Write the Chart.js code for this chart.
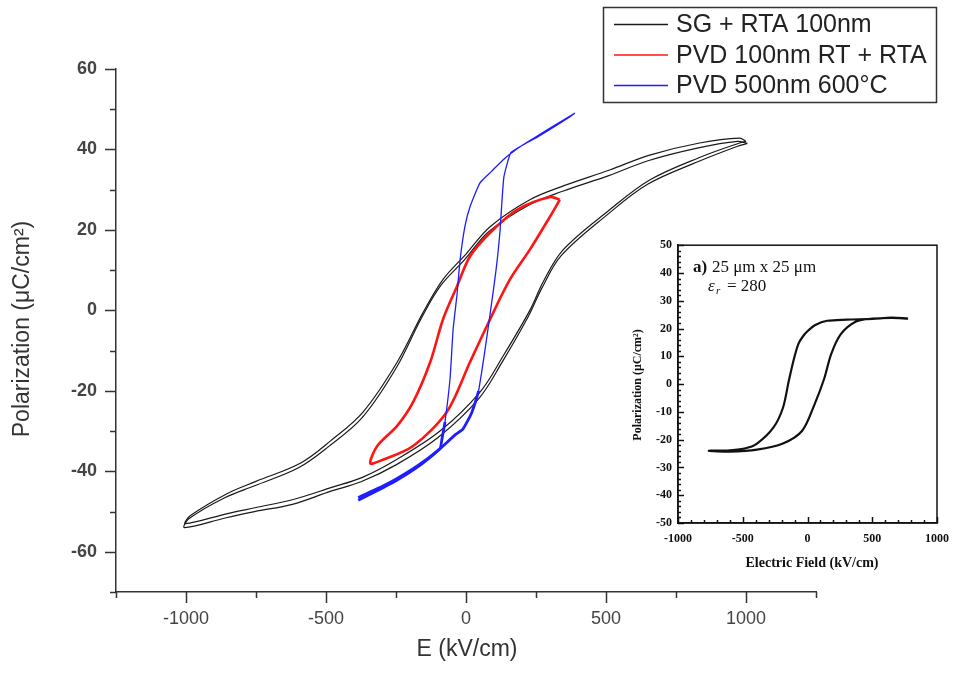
<!DOCTYPE html>
<html>
<head>
<meta charset="utf-8">
<script src="https://cdn.jsdelivr.net/npm/chart.js@4"></script>
<style>
html, body { margin: 0; padding: 0; background: #fff; }
#wrap { position: relative; width: 958px; height: 675px; }
#main { position: absolute; left: 0; top: 0; }
#inset { position: absolute; left: 628px; top: 232px; background: #fff; }
</style>
</head>
<body>
<div id="wrap">
  <canvas id="main" width="958" height="675"></canvas>
  <canvas id="inset" width="330" height="345"></canvas>
</div>
<script>
// SG + RTA 100nm - two overlapping cycles (upper branch then lower branch)
const sgE1 = [1000, 977, 834, 656, 513, 350, 228, 86, 0, -82, -153, -246, -367, -485, -592, -750, -852, -984, -1002,
              -852, -750, -617, -480, -370, -246, -93, 50, 132, 228, 275, 346, 513, 656, 834, 977, 1000];
const sgP1 = [42, 42.8, 41.6, 38.6, 34.9, 31, 27.5, 20.8, 14, 7.7, -0.5, -12.9, -25.2, -32.5, -38, -42.5, -45.5, -51, -53,
              -50.5, -49, -47, -44, -41.5, -37, -30, -20.3, -11.4, 0, 7, 15, 25, 32.4, 38, 41.6, 42];
const sgE2 = [1005, 970, 830, 650, 510, 345, 225, 80, -5, -90, -160, -250, -370, -490, -600, -755, -860, -990, -1005,
              -860, -755, -620, -485, -375, -250, -100, 45, 128, 222, 270, 340, 505, 650, 830, 970, 1005];
const sgP2 = [41.5, 42, 40.4, 37.2, 33.5, 29.6, 26.2, 19.5, 12.6, 6.2, -2, -14.4, -26.6, -33.8, -39.2, -43.6, -46.5, -51.8, -54,
              -51.6, -50, -48.2, -45, -42.6, -38.4, -31.6, -22, -13, -1.6, 5.4, 13.6, 23.8, 31.4, 37, 40.8, 41.5];

// PVD 100nm RT + RTA
const rtE = [335, 300, 182, 86, 14, -32, -82, -128, -189, -246, -317, -342,
             -307, -189, -68, 14, 86, 157, 228, 300, 335];
const rtP = [27.5, 28.2, 25, 19.3, 13.4, 6, -2.2, -12.9, -22.8, -28.7, -33.7, -38,
             -37.4, -33.7, -25.2, -12.9, -2.2, 7.7, 15.1, 23.3, 27.5];

// PVD 500nm 600°C
const hotE = [-385, -300, -246, -170, -93, -40, -11, 20, 45, 103, 121, 135, 160, 200, 253, 324, 388,
              324, 253, 200, 160, 132, 90, 50, 14, -4, -21, -32, -46, -57, -75, -86, -93, -170, -246, -300, -385];
const hotP = [-46.5, -43.8, -41.8, -38.5, -34.4, -31, -29.5, -25.5, -20, 7.7, 19.3, 33, 39.2, 41, 43.3, 46.3, 49,
              46, 43, 41, 39, 37.4, 34.5, 31.7, 25.7, 20.8, 12.6, 4, -4.7, -17, -27.7, -32, -34.4, -38.8, -42.2, -44.2, -47.2];

// inset: a) 25 um x 25 um
const insE = [777, 650, 503, 303, 152, 60, 4, -30, -70, -105, -145, -190, -264, -390, -487, -620, -762,
              -600, -390, -190, -41, 56, 130, 182, 256, 375, 502, 650, 777];
const insP = [23.6, 23.9, 23.5, 23.2, 22.8, 21.3, 19.2, 17.5, 14.5, 9, 1, -8.6, -15.7, -21.4, -23.2, -23.9, -24,
              -24.3, -23.6, -21.4, -16.8, -7.1, 2.1, 10.7, 17.9, 22.5, 23.6, 23.8, 23.6];

const seriesNames = ['SG + RTA 100nm', 'PVD 100nm RT + RTA', 'PVD 500nm 600°C'];
const seriesColors = ['#1a1a1a', '#ff1414', '#1e1eff'];

function pts(xs, ys) {
    return xs.map((x, i) => ({ x: x, y: ys[i] }));
}

// tick marks drawn from the scale's own ticks (long for labelled, short for the rest)
const tickMarks = {
    id: 'tickMarks',
    afterDraw(chart, args, opts) {
        const ctx = chart.ctx;
        const area = chart.chartArea;
        const xs = chart.scales.x, ys = chart.scales.y;
        const dir = opts.inward ? -1 : 1;
        ctx.save();
        ctx.strokeStyle = opts.color;
        ctx.lineWidth = opts.width;
        ctx.beginPath();
        xs.ticks.forEach((t, i) => {
            const px = Math.round(xs.getPixelForTick(i)) + 0.5;
            const len = t.label === '' ? opts.minor : opts.major;
            ctx.moveTo(px, area.bottom);
            ctx.lineTo(px, area.bottom + dir * len);
        });
        ys.ticks.forEach((t, i) => {
            const py = Math.round(ys.getPixelForTick(i)) + 0.5;
            const len = t.label === '' ? opts.minor : opts.major;
            ctx.moveTo(area.left, py);
            ctx.lineTo(area.left - dir * len, py);
        });
        ctx.stroke();
        if (opts.box) {
            ctx.lineWidth = 1.5;
            ctx.strokeRect(area.left, area.top, area.right - area.left, area.bottom - area.top);
        }
        ctx.restore();
    }
};

// free text (axis titles, annotations)
const texts = {
    id: 'texts',
    afterDraw(chart, args, opts) {
        const ctx = chart.ctx;
        (opts.items || []).forEach(t => {
            ctx.save();
            ctx.translate(t.x, t.y);
            if (t.rotate) ctx.rotate(t.rotate);
            ctx.font = t.font;
            ctx.fillStyle = t.color || '#000';
            ctx.textAlign = t.align || 'center';
            ctx.textBaseline = 'middle';
            ctx.fillText(t.text, 0, 0);
            ctx.restore();
        });
    }
};

// boxed legend at top right
const legendBox = {
    id: 'legendBox',
    afterDraw(chart) {
        const ctx = chart.ctx;
        ctx.save();
        ctx.strokeStyle = '#333';
        ctx.lineWidth = 1.5;
        ctx.strokeRect(603.5, 7.5, 333, 95);
        const items = chart.data.datasets.filter(d => d.legendRank !== undefined)
            .sort((a, b) => a.legendRank - b.legendRank);
        items.forEach((d, i) => {
            const y = 24.5 + i * 30.5;
            ctx.strokeStyle = d.borderColor;
            ctx.lineWidth = 1.5;
            ctx.beginPath();
            ctx.moveTo(614, y);
            ctx.lineTo(668, y);
            ctx.stroke();
            ctx.fillStyle = '#222';
            ctx.font = '25px "Liberation Sans", Arial, sans-serif';
            ctx.textBaseline = 'middle';
            ctx.fillText(d.label, 676, y + 1);
        });
        ctx.restore();
    }
};

const mainChart = new Chart(document.getElementById('main').getContext('2d'), {
    type: 'line',
    data: {
        datasets: [
            {
                label: seriesNames[2], legendRank: 2, data: pts(hotE, hotP), borderColor: seriesColors[2], borderWidth: 1.3, tension: 0.15,
                segment: { borderWidth: c => (c.p0.parsed.y < -19 && c.p1.parsed.y < -19 ? 2.8 : 1.3) }
            },
            { label: seriesNames[1], legendRank: 1, data: pts(rtE, rtP), borderColor: seriesColors[1], borderWidth: 2.6, tension: 0.3 },
            { label: seriesNames[0], legendRank: 0, data: pts(sgE1, sgP1), borderColor: seriesColors[0], borderWidth: 1.2, tension: 0.35 },
            { label: seriesNames[0], data: pts(sgE2, sgP2), borderColor: seriesColors[0], borderWidth: 1.2, tension: 0.35 }
        ]
    },
    options: {
        responsive: false,
        animation: false,
        layout: { padding: { left: 0, top: 69, right: 142, bottom: 0 } },
        elements: { point: { radius: 0 } },
        plugins: {
            legend: { display: false },
            tooltip: { enabled: false },
            tickMarks: { color: '#333', width: 1.5, major: 11, minor: 6, inward: false },
            texts: {
                items: [
                    { text: 'Polarization (\u03bcC/cm\u00b2)', x: 23, y: 329, rotate: -Math.PI / 2, font: '23px "Liberation Sans", Arial, sans-serif', color: '#333' },
                    { text: 'E (kV/cm)', x: 467, y: 650, font: '23px "Liberation Sans", Arial, sans-serif', color: '#333' }
                ]
            }
        },
        scales: {
            x: {
                type: 'linear',
                min: -1250,
                max: 1250,
                afterFit: s => { s.height = 83; },
                border: { color: '#333', width: 1.5 },
                grid: { display: false, drawTicks: false },
                ticks: {
                    stepSize: 250,
                    padding: 16,
                    maxRotation: 0,
                    autoSkip: false,
                    color: '#444',
                    font: { family: '"Liberation Sans", Arial, sans-serif', size: 18 },
                    callback: v => (v % 500 === 0 ? v : '')
                }
            },
            y: {
                type: 'linear',
                min: -70,
                max: 60,
                afterFit: s => { s.width = 116; },
                border: { color: '#333', width: 1.5 },
                grid: { display: false, drawTicks: false },
                ticks: {
                    stepSize: 10,
                    padding: 19,
                    autoSkip: false,
                    color: '#444',
                    font: { family: '"Liberation Sans", Arial, sans-serif', size: 18, weight: 'bold' },
                    callback: v => (v % 20 === 0 ? v : '')
                }
            }
        }
    },
    plugins: [tickMarks, texts, legendBox]
});

const serif = '"Liberation Serif", "Times New Roman", serif';

const insetChart = new Chart(document.getElementById('inset').getContext('2d'), {
    type: 'line',
    data: {
        datasets: [
            { label: 'a) 25 \u03bcm x 25 \u03bcm', data: pts(insE, insP), borderColor: '#111', borderWidth: 2.2, tension: 0.3 }
        ]
    },
    options: {
        responsive: false,
        animation: false,
        layout: { padding: { left: 0, top: 11, right: 11, bottom: 0 } },
        elements: { point: { radius: 0 } },
        plugins: {
            legend: { display: false },
            tooltip: { enabled: false },
            tickMarks: { color: '#111', width: 1.5, major: 6, minor: 3, inward: true, box: true },
            texts: {
                items: [
                    { text: 'Polarization (\u03bcC/cm\u00b2)', x: 10, y: 153, rotate: -Math.PI / 2, font: 'bold 12px ' + serif, color: '#111' },
                    { text: 'Electric Field (kV/cm)', x: 184, y: 331, font: 'bold 14px ' + serif, color: '#111' },
                    { text: 'a)', x: 65, y: 36, align: 'left', font: 'bold 17px ' + serif, color: '#111' },
                    { text: '25 \u03bcm x 25 \u03bcm', x: 84, y: 36, align: 'left', font: '17px ' + serif, color: '#111' },
                    { text: '\u03b5', x: 80, y: 55, align: 'left', font: 'italic 17px ' + serif, color: '#111' },
                    { text: 'r', x: 88, y: 59, align: 'left', font: 'italic 11px ' + serif, color: '#111' },
                    { text: '= 280', x: 99, y: 55, align: 'left', font: '17px ' + serif, color: '#111' }
                ]
            }
        },
        scales: {
            x: {
                type: 'linear',
                min: -1000,
                max: 1000,
                afterFit: s => { s.height = 54; },
                border: { color: '#111', width: 1.5 },
                grid: { display: false, drawTicks: false },
                ticks: {
                    stepSize: 100,
                    padding: 9,
                    maxRotation: 0,
                    autoSkip: false,
                    color: '#111',
                    font: { family: serif, size: 12, weight: 'bold' },
                    callback: v => (v % 500 === 0 ? v : '')
                }
            },
            y: {
                type: 'linear',
                min: -50,
                max: 50,
                afterFit: s => { s.width = 50; },
                border: { color: '#111', width: 1.5 },
                grid: { display: false, drawTicks: false },
                ticks: {
                    stepSize: 2,
                    padding: 6,
                    autoSkip: false,
                    color: '#111',
                    font: { family: serif, size: 12, weight: 'bold' },
                    callback: v => (v % 10 === 0 ? v : '')
                }
            }
        }
    },
    plugins: [tickMarks, texts]
});
</script>
</body>
</html>
